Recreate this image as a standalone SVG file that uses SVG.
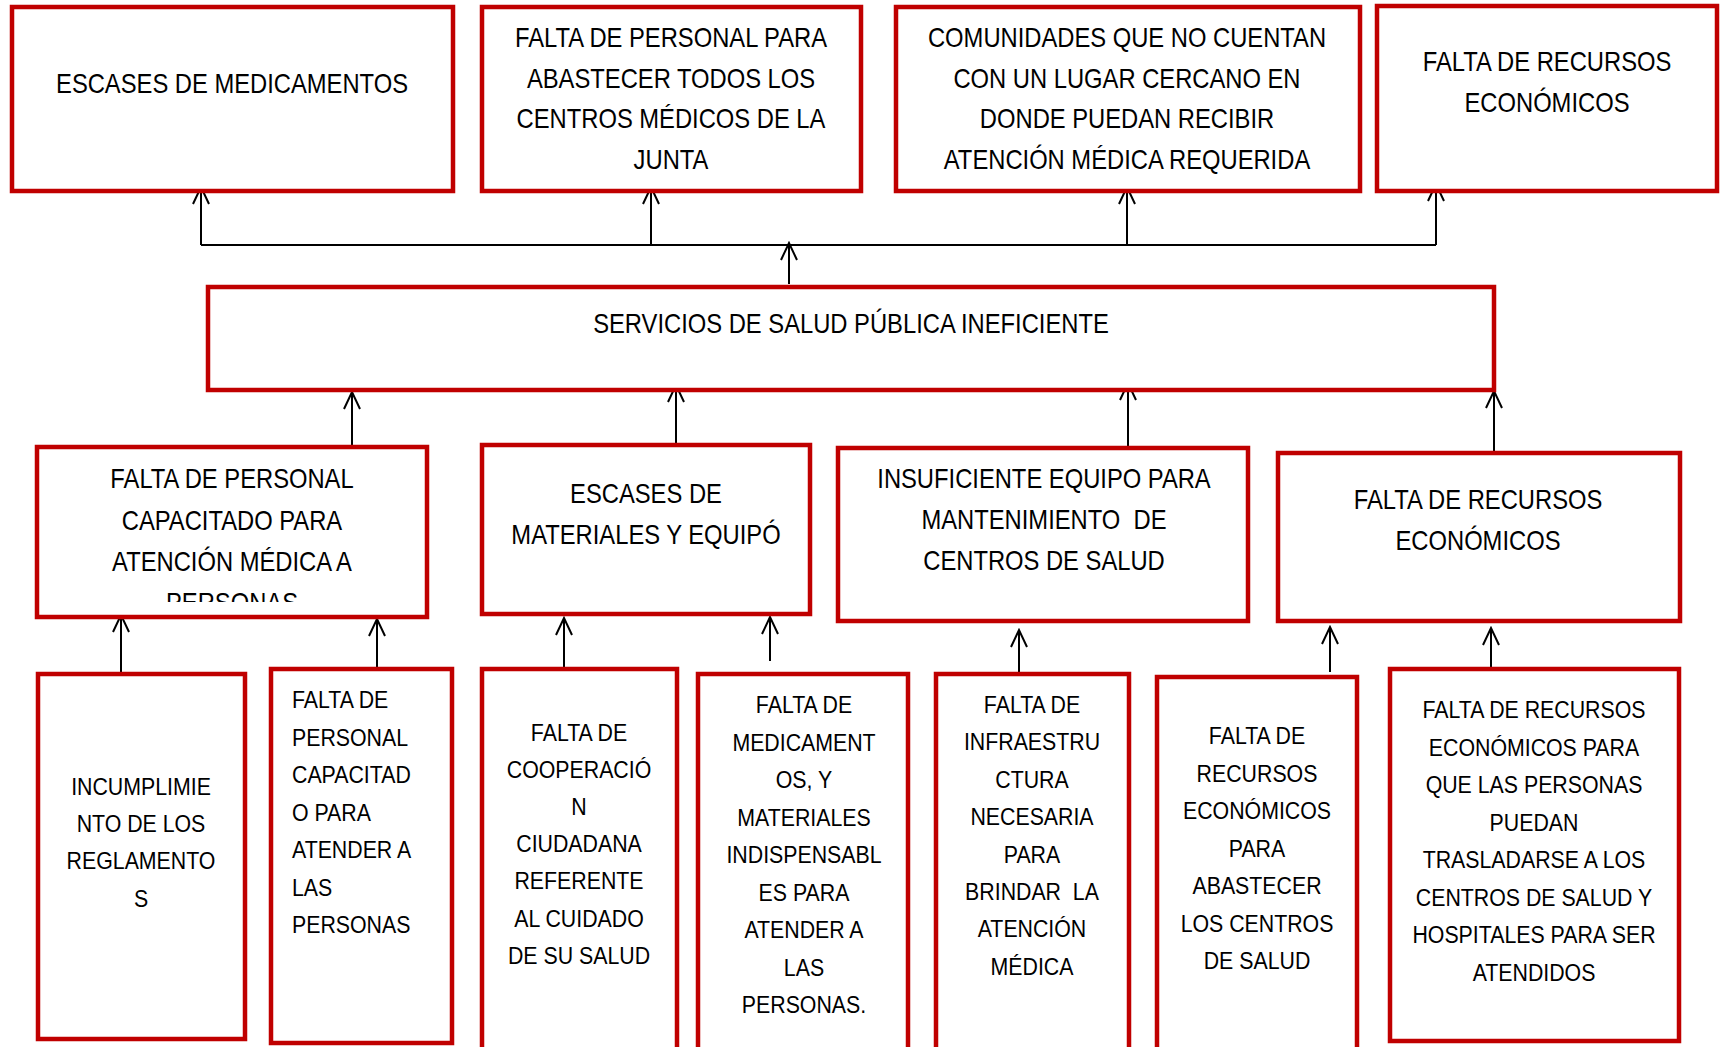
<svg xmlns="http://www.w3.org/2000/svg" width="1720" height="1047" viewBox="0 0 1720 1047">
<style>
.box{fill:#fff;stroke:#C00000;stroke-width:4.5}
.t{font-family:"Liberation Sans",Arial,sans-serif;font-size:27px;fill:#000;text-anchor:middle;white-space:pre}
.s{font-size:24.5px}
.l{text-anchor:start}
.c{fill:none;stroke:#000;stroke-width:2}
</style>
<defs>
<marker id="ah" viewBox="-18 -10 20 20" refX="0" refY="0" markerWidth="20" markerHeight="20" markerUnits="userSpaceOnUse" orient="auto">
<path d="M-17,-8 L0,0 L-17,8" fill="none" stroke="#000" stroke-width="2"/>
</marker>
<clipPath id="clipA"><rect x="37" y="447" width="390" height="155"/></clipPath>
</defs>
<rect width="1720" height="1047" fill="#fff"/>

<g id="connectors">
<path class="c" d="M201,245 H1436"/>
<path class="c" d="M201,245 V187" marker-end="url(#ah)"/>
<path class="c" d="M651,245 V187" marker-end="url(#ah)"/>
<path class="c" d="M1127,245 V187" marker-end="url(#ah)"/>
<path class="c" d="M1436,245 V184" marker-end="url(#ah)"/>
<path class="c" d="M789,284 V243" marker-end="url(#ah)"/>
<path class="c" d="M352,447 V392" marker-end="url(#ah)"/>
<path class="c" d="M676,445 V385" marker-end="url(#ah)"/>
<path class="c" d="M1128,448 V383" marker-end="url(#ah)"/>
<path class="c" d="M1494,461 V391" marker-end="url(#ah)"/>
<path class="c" d="M121,674 V615" marker-end="url(#ah)"/>
<path class="c" d="M377,669 V619" marker-end="url(#ah)"/>
<path class="c" d="M564,669 V618" marker-end="url(#ah)"/>
<path class="c" d="M770,661 V617" marker-end="url(#ah)"/>
<path class="c" d="M1019,674 V630" marker-end="url(#ah)"/>
<path class="c" d="M1330,672 V627" marker-end="url(#ah)"/>
<path class="c" d="M1491,669 V628" marker-end="url(#ah)"/>
</g>

<g id="top1"><rect class="box" x="12" y="7" width="441" height="184"/>
<g transform="translate(232 0) scale(0.88 1)"><text class="t" x="0" y="93">ESCASES DE MEDICAMENTOS</text></g></g>
<g id="top2"><rect class="box" x="482" y="7" width="379" height="184"/>
<g transform="translate(671 0) scale(0.88 1)">
<text class="t" x="0" y="47">FALTA DE PERSONAL PARA</text>
<text class="t" x="0" y="88">ABASTECER TODOS LOS</text>
<text class="t" x="0" y="128">CENTROS MÉDICOS DE LA</text>
<text class="t" x="0" y="169">JUNTA</text></g></g>
<g id="top3"><rect class="box" x="896" y="7" width="464" height="184"/>
<g transform="translate(1127 0) scale(0.88 1)">
<text class="t" x="0" y="47">COMUNIDADES QUE NO CUENTAN</text>
<text class="t" x="0" y="88">CON UN LUGAR CERCANO EN</text>
<text class="t" x="0" y="128">DONDE PUEDAN RECIBIR</text>
<text class="t" x="0" y="169">ATENCIÓN MÉDICA REQUERIDA</text></g></g>
<g id="top4"><rect class="box" x="1377" y="6" width="340" height="185"/>
<g transform="translate(1547 0) scale(0.88 1)">
<text class="t" x="0" y="71">FALTA DE RECURSOS</text>
<text class="t" x="0" y="112">ECONÓMICOS</text></g></g>

<g id="main"><rect class="box" x="208" y="287" width="1286" height="103"/>
<g transform="translate(851 0) scale(0.88 1)"><text class="t" x="0" y="333">SERVICIOS DE SALUD PÚBLICA INEFICIENTE</text></g></g>

<g id="midA"><rect class="box" x="37" y="447" width="390" height="170"/>
<g clip-path="url(#clipA)"><g transform="translate(232 0) scale(0.88 1)">
<text class="t" x="0" y="488">FALTA DE PERSONAL</text>
<text class="t" x="0" y="530">CAPACITADO PARA</text>
<text class="t" x="0" y="571">ATENCIÓN MÉDICA A</text>
<text class="t" x="0" y="612">PERSONAS</text></g></g></g>
<g id="midB"><rect class="box" x="482" y="445" width="328" height="169"/>
<g transform="translate(646 0) scale(0.88 1)">
<text class="t" x="0" y="503">ESCASES DE</text>
<text class="t" x="0" y="544">MATERIALES Y EQUIPÓ</text></g></g>
<g id="midC"><rect class="box" x="838" y="448" width="410" height="173"/>
<g transform="translate(1044 0) scale(0.88 1)">
<text class="t" x="0" y="488">INSUFICIENTE EQUIPO PARA</text>
<text class="t" x="0" y="529">MANTENIMIENTO  DE</text>
<text class="t" x="0" y="570">CENTROS DE SALUD</text></g></g>
<g id="midD"><rect class="box" x="1278" y="453" width="402" height="168"/>
<g transform="translate(1478 0) scale(0.88 1)">
<text class="t" x="0" y="509">FALTA DE RECURSOS</text>
<text class="t" x="0" y="550">ECONÓMICOS</text></g></g>

<g id="bot1"><rect class="box" x="38" y="674" width="207" height="365"/>
<g transform="translate(141 0) scale(0.87 1)">
<text class="t s" x="0" y="795">INCUMPLIMIE</text>
<text class="t s" x="0" y="832">NTO DE LOS</text>
<text class="t s" x="0" y="869">REGLAMENTO</text>
<text class="t s" x="0" y="907">S</text></g></g>
<g id="bot2"><rect class="box" x="271" y="669" width="181" height="374"/>
<g transform="translate(292 0) scale(0.87 1)">
<text class="t s l" x="0" y="708">FALTA DE</text>
<text class="t s l" x="0" y="746">PERSONAL</text>
<text class="t s l" x="0" y="783">CAPACITAD</text>
<text class="t s l" x="0" y="821">O PARA</text>
<text class="t s l" x="0" y="858">ATENDER A</text>
<text class="t s l" x="0" y="896">LAS</text>
<text class="t s l" x="0" y="933">PERSONAS</text></g></g>
<g id="bot3"><rect class="box" x="482" y="669" width="195" height="400"/>
<g transform="translate(579 0) scale(0.87 1)">
<text class="t s" x="0" y="741">FALTA DE</text>
<text class="t s" x="0" y="778">COOPERACIÓ</text>
<text class="t s" x="0" y="815">N</text>
<text class="t s" x="0" y="852">CIUDADANA</text>
<text class="t s" x="0" y="889">REFERENTE</text>
<text class="t s" x="0" y="927">AL CUIDADO</text>
<text class="t s" x="0" y="964">DE SU SALUD</text></g></g>
<g id="bot4"><rect class="box" x="698" y="674" width="210" height="400"/>
<g transform="translate(804 0) scale(0.87 1)">
<text class="t s" x="0" y="713">FALTA DE</text>
<text class="t s" x="0" y="751">MEDICAMENT</text>
<text class="t s" x="0" y="788">OS, Y</text>
<text class="t s" x="0" y="826">MATERIALES</text>
<text class="t s" x="0" y="863">INDISPENSABL</text>
<text class="t s" x="0" y="901">ES PARA</text>
<text class="t s" x="0" y="938">ATENDER A</text>
<text class="t s" x="0" y="976">LAS</text>
<text class="t s" x="0" y="1013">PERSONAS.</text></g></g>
<g id="bot5"><rect class="box" x="936" y="674" width="193" height="400"/>
<g transform="translate(1032 0) scale(0.87 1)">
<text class="t s" x="0" y="713">FALTA DE</text>
<text class="t s" x="0" y="750">INFRAESTRU</text>
<text class="t s" x="0" y="788">CTURA</text>
<text class="t s" x="0" y="825">NECESARIA</text>
<text class="t s" x="0" y="863">PARA</text>
<text class="t s" x="0" y="900">BRINDAR  LA</text>
<text class="t s" x="0" y="937">ATENCIÓN</text>
<text class="t s" x="0" y="975">MÉDICA</text></g></g>
<g id="bot6"><rect class="box" x="1157" y="677" width="200" height="400"/>
<g transform="translate(1257 0) scale(0.87 1)">
<text class="t s" x="0" y="744">FALTA DE</text>
<text class="t s" x="0" y="782">RECURSOS</text>
<text class="t s" x="0" y="819">ECONÓMICOS</text>
<text class="t s" x="0" y="857">PARA</text>
<text class="t s" x="0" y="894">ABASTECER</text>
<text class="t s" x="0" y="932">LOS CENTROS</text>
<text class="t s" x="0" y="969">DE SALUD</text></g></g>
<g id="bot7"><rect class="box" x="1390" y="669" width="289" height="372"/>
<g transform="translate(1534 0) scale(0.87 1)">
<text class="t s" x="0" y="718">FALTA DE RECURSOS</text>
<text class="t s" x="0" y="756">ECONÓMICOS PARA</text>
<text class="t s" x="0" y="793">QUE LAS PERSONAS</text>
<text class="t s" x="0" y="831">PUEDAN</text>
<text class="t s" x="0" y="868">TRASLADARSE A LOS</text>
<text class="t s" x="0" y="906">CENTROS DE SALUD Y</text>
<text class="t s" x="0" y="943">HOSPITALES PARA SER</text>
<text class="t s" x="0" y="981">ATENDIDOS</text></g></g>
</svg>
